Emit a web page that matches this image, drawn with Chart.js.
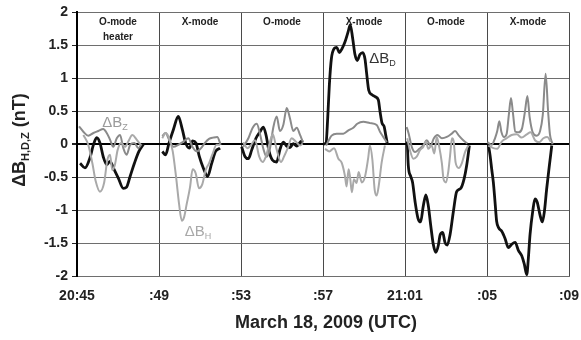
<!DOCTYPE html>
<html>
<head>
<meta charset="utf-8">
<script src="https://cdn.jsdelivr.net/npm/chart.js@4.4.1/dist/chart.umd.min.js"></script>
<style>
  html, body { margin:0; padding:0; background:#fff; }
</style>
</head>
<body>
<canvas id="mag-chart" width="581" height="340"></canvas>
<script>
'use strict';

// ── Data (x = minutes after 20:45 UTC, null value = heater off gap) ──────────
const xTickLabels = ['20:45', ':49', ':53', ':57', '21:01', ':05', ':09'];
const panelLabels = [['O-mode', 'heater'], ['X-mode'], ['O-mode'], ['X-mode'], ['O-mode'], ['X-mode']];

// ΔB_D (black)
const dTime = [
  0.15,0.39,0.63,0.80,0.96,1.12,1.28,1.45,1.61,1.82,2.01,2.26,2.42,2.59,2.80,3.02,3.24, 3.6,
  4.16,4.32,4.49,4.70,4.94,5.14,5.30,5.48,5.64,5.80,5.97,6.16,6.37,6.57,6.76,6.98, 7.5,
  8.03,8.20,8.36,8.52,8.73,8.93,9.09,9.22,9.37,9.53,9.74,9.90,10.07,10.23,10.39,10.55,10.72,10.91,11.04, 11.5,
  12.02,12.15,12.23,12.31,12.41,12.54,12.67,12.80,12.93,13.07,13.22,13.33,13.45,13.56,13.67,13.80,13.94,14.05,14.13,14.23,14.39,14.55,14.70,14.78,14.88,14.98,15.06,15.14, 15.6,
  16.11,16.16,16.28,16.37,16.49,16.63,16.76,16.89,17.02,17.14,17.25,17.38,17.51,17.63,17.71,17.84,17.95,18.06,18.20,18.36,18.52,18.72,18.88,19.01,19.14, 19.6,
  20.06,20.15,20.23,20.31,20.39,20.47,20.57,20.72,20.88,21.04,21.20,21.37,21.53,21.69,21.82,21.94,22.02,22.10,22.23,22.34,22.45,22.59,22.70,22.80,22.91,23.04,23.16
];
const dVal = [
  -0.29,-0.36,-0.21,-0.01,0.10,0.02,-0.19,-0.31,-0.26,-0.39,-0.51,-0.67,-0.65,-0.49,-0.29,-0.11,0, null,
  -0.11,-0.16,0.02,0.22,0.42,0.22,0.02,-0.06,0.05,0.02,-0.19,-0.36,-0.49,-0.29,-0.11,-0.06, null,
  -0.04,-0.19,-0.22,-0.09,0.09,0.19,0.26,0.14,-0.11,-0.24,-0.27,-0.08,0.03,-0.03,-0.05,0.01,-0.03,0.04,0.05, null,
  0,0.02,0.40,0.90,1.30,1.45,1.47,1.39,1.45,1.55,1.70,1.81,1.60,1.36,1.27,1.36,1.39,1.29,1.07,0.82,0.75,0.72,0.67,0.50,0.32,0.27,0.14,0, null,
  0.04,-0.32,-0.49,-0.58,-0.87,-1.12,-1.18,-0.94,-0.77,-0.94,-1.22,-1.52,-1.64,-1.53,-1.38,-1.34,-1.49,-1.53,-1.37,-1.02,-0.72,-0.67,-0.53,-0.32,-0.02, null,
  0.01,-0.17,-0.38,-0.58,-0.87,-1.17,-1.27,-1.32,-1.43,-1.57,-1.52,-1.49,-1.61,-1.69,-1.82,-1.98,-1.72,-1.37,-1.02,-0.83,-0.88,-1.08,-1.18,-1.02,-0.68,-0.33,-0.02
];

// ΔB_Z (mid gray)
const zTime = [
  0.10,0.31,0.55,0.80,1.04,1.28,1.45,1.61,1.77,1.94,2.10,2.26,2.42,2.59,2.80,2.99,3.15, 3.6,
  4.16,4.32,4.49,4.70,4.94,5.19,5.43,5.63,5.84,6.05,6.24,6.44,6.65,6.84,7.01, 7.5,
  8.11,8.36,8.57,8.77,8.93,9.09,9.25,9.41,9.58,9.74,9.90,10.07,10.23,10.39,10.55,10.72,10.88,11.01, 11.5,
  12.15,12.42,12.67,12.99,13.24,13.48,13.67,13.97,14.29,14.62,14.78,14.94,15.11, 15.6,
  16.08,16.18,16.33,16.49,16.70,16.89,17.06,17.25,17.41,17.58,17.80,18.04,18.28,18.44,18.63,18.84,19.04, 19.6,
  20.02,20.23,20.39,20.50,20.60,20.70,20.83,20.96,21.07,21.17,21.27,21.38,21.55,21.71,21.85,21.97,22.08,22.23,22.42,22.59,22.72,22.86,22.98,23.07,23.20
];
const zVal = [
  0.27,0.19,0.13,0.17,0.20,0.23,0.17,0.07,-0.04,0.09,0.14,-0.06,-0.16,-0.01,0.02,-0.06,0, null,
  0.12,0.17,0.07,-0.04,-0.01,0.04,0.09,-0.04,-0.11,-0.06,0.02,0.08,0.10,0.11,-0.01, null,
  -0.04,0.09,0.25,0.31,0.15,-0.07,-0.19,-0.07,0.26,0.42,0.20,0.30,0.55,0.39,0.20,0.25,0.14,0.04, null,
  -0.02,0.13,0.16,0.16,0.21,0.25,0.31,0.34,0.32,0.29,0.19,0.11,0.03, null,
  0.26,0.16,-0.04,-0.12,-0.07,-0.02,0.06,-0.02,0.09,0.14,0.09,0.11,0.16,0.20,0.13,0.06,0.01, null,
  0.03,-0.01,0.09,0.20,0.35,0.19,0.11,0.16,0.46,0.70,0.46,0.19,0.18,0.24,0.49,0.73,0.41,0.18,0.13,0.20,0.44,1.07,0.50,0.15,0
];

// ΔB_H (light gray)
const hTime = [
  0.31,0.55,0.75,0.91,1.12,1.32,1.48,1.61,1.72,1.85,1.98,2.15,2.34,2.50,2.70,2.91,3.11, 3.6,
  4.16,4.32,4.50,4.67,4.83,4.98,5.11,5.22,5.35,5.51,5.64,5.79,5.95,6.11,6.28,6.44,6.60,6.81,6.98, 7.5,
  8.11,8.31,8.47,8.68,8.89,9.06,9.22,9.38,9.55,9.74,9.95,10.11,10.28,10.47,10.67,10.88,11.01, 11.5,
  12.10,12.31,12.54,12.75,12.91,13.07,13.15,13.25,13.33,13.41,13.51,13.64,13.74,13.89,14.05,14.20,14.29,14.41,14.52,14.62,14.72,14.86,15.02, 15.6,
  16.11,16.24,16.41,16.57,16.73,16.89,17.02,17.14,17.30,17.43,17.55,17.67,17.80,17.88,18.00,18.11,18.20,18.29,18.37,18.47,18.62,18.77,18.93,19.09, 19.6,
  20.06,20.31,20.50,20.72,20.96,21.20,21.45,21.69,21.94,22.13,22.34,22.55,22.75,22.94,23.11
];
const hVal = [
  0.14,-0.01,-0.29,-0.56,-0.72,-0.59,-0.24,-0.16,-0.39,-0.31,-0.09,0.02,-0.04,0.04,0.14,0.07,-0.01, null,
  0.09,0.17,0.09,-0.11,-0.49,-0.91,-1.16,-1.11,-0.91,-0.66,-0.38,-0.44,-0.67,-0.61,-0.39,-0.29,-0.16,-0.01,-0.01, null,
  0.03,-0.06,-0.02,0.06,-0.19,-0.27,-0.18,0,0.15,-0.08,-0.27,-0.18,-0.06,0.09,0.04,-0.02,0.01, null,
  -0.07,-0.11,-0.06,-0.22,-0.28,-0.48,-0.64,-0.38,-0.53,-0.73,-0.53,-0.59,-0.42,-0.58,-0.49,-0.22,-0.02,-0.24,-0.69,-0.78,-0.63,-0.28,-0.02, null,
  0.09,-0.09,-0.22,-0.19,-0.09,-0.04,0.04,-0.07,-0.02,-0.14,0.11,-0.04,-0.29,-0.53,-0.58,-0.42,-0.17,0.09,0.05,-0.28,-0.36,-0.29,-0.12,-0.02, null,
  -0.02,-0.06,-0.07,0.04,0.09,0.14,0.15,0.10,0.15,0.18,0.06,0.03,0.09,0.11,0.04
];

// curve labels: [subscript, minute, value]
const curveLabels = [['Z', 1.85, 0.32], ['H', 5.9, -1.33], ['D', 14.9, 1.3]];

const FONT = '"Liberation Sans", Arial, sans-serif';
const toPoints = (ts, vs) => ts.map((t, i) => ({ x: t, y: vs[i] }));

// ── Text overlay: panel headings, curve labels, axis titles ──────────────────
function drawDeltaB(ctx, sub, cx, cy, big, small, weight) {
  ctx.font = `${weight} ${big}px ${FONT}`;
  const w1 = ctx.measureText('ΔB').width;
  ctx.font = `${weight} ${small}px ${FONT}`;
  const w2 = ctx.measureText(sub).width;
  const x0 = cx - (w1 + w2) / 2;
  ctx.textAlign = 'left';
  ctx.font = `${weight} ${big}px ${FONT}`;
  ctx.fillText('ΔB', x0, cy);
  ctx.font = `${weight} ${small}px ${FONT}`;
  ctx.fillText(sub, x0 + w1, cy + big * 0.3);
}

const figText = {
  id: 'figText',
  afterDatasetsDraw(chart) {
    const { ctx, chartArea: a, scales: { x, y } } = chart;
    ctx.save();
    ctx.textBaseline = 'middle';

    // panel headings
    ctx.fillStyle = '#222';
    ctx.font = `bold 10px ${FONT}`;
    ctx.textAlign = 'center';
    panelLabels.forEach((lines, i) => {
      const cx = x.getPixelForValue(i * 4 + 2);
      lines.forEach((s, j) => ctx.fillText(s, cx, a.top + 10 + j * 15));
    });

    // curve labels
    const colors = { Z: '#9a9a9a', H: '#a8a8a8', D: '#333' };
    curveLabels.forEach(([sub, t, v]) => {
      ctx.fillStyle = colors[sub];
      drawDeltaB(ctx, sub, x.getPixelForValue(t), y.getPixelForValue(v), 15, 9, 'normal');
    });

    // x title
    ctx.fillStyle = '#222';
    ctx.textAlign = 'center';
    ctx.font = `bold 18px ${FONT}`;
    ctx.fillText('March 18, 2009 (UTC)', (a.left + a.right) / 2 + 3, 323);

    // y title (rotated, with subscript)
    ctx.translate(20, 140);
    ctx.rotate(-Math.PI / 2);
    ctx.font = `bold 18px ${FONT}`;
    const w1 = ctx.measureText('ΔB').width;
    const w3 = ctx.measureText(' (nT)').width;
    ctx.font = `bold 11px ${FONT}`;
    const w2 = ctx.measureText('H,D,Z').width;
    const x0 = -(w1 + w2 + w3) / 2;
    ctx.textAlign = 'left';
    ctx.font = `bold 18px ${FONT}`;
    ctx.fillText('ΔB', x0, 0);
    ctx.font = `bold 11px ${FONT}`;
    ctx.fillText('H,D,Z', x0 + w1, 6);
    ctx.font = `bold 18px ${FONT}`;
    ctx.fillText(' (nT)', x0 + w1 + w2, 0);
    ctx.restore();
  }
};

// ── Chart ────────────────────────────────────────────────────────────────────
const line = { pointRadius: 0, fill: false, spanGaps: false, cubicInterpolationMode: 'monotone' };

new Chart(document.getElementById('mag-chart'), {
  type: 'line',
  data: {
    datasets: [
      { ...line, label: 'ΔB_H', data: toPoints(hTime, hVal), borderColor: '#a9a9a9', borderWidth: 2 },
      { ...line, label: 'ΔB_Z', data: toPoints(zTime, zVal), borderColor: '#8a8a8a', borderWidth: 2 },
      { ...line, label: 'ΔB_D', data: toPoints(dTime, dVal), borderColor: '#111', borderWidth: 2.8 }
    ]
  },
  options: {
    responsive: false, animation: false,
    layout: { padding: { top: 10, right: 0, left: 0, bottom: 0 } },
    plugins: { legend: { display: false }, tooltip: { enabled: false } },
    scales: {
      x: {
        type: 'linear', min: 0, max: 24,
        afterFit: s => { s.height = 64; s.paddingLeft = 0; s.paddingRight = 12; },
        ticks: { stepSize: 4, padding: 12, color: '#222', font: { family: FONT, size: 14, weight: 'bold' },
                 callback: v => xTickLabels[Math.round(v / 4)] },
        grid: { color: '#4a4a4a', lineWidth: 1, drawTicks: false },
        border: { color: '#6e6e6e', width: 1 }
      },
      y: {
        min: -2, max: 2,
        afterFit: s => { s.width = 77; },
        ticks: { stepSize: 0.5, padding: 4, color: '#222', font: { family: FONT, size: 14, weight: 'bold' },
                 callback: v => String(v) },
        grid: { color: c => c.tick && c.tick.value === 0 ? '#000' : '#6e6e6e',
                lineWidth: c => c.tick && c.tick.value === 0 ? 2 : 1,
                tickLength: 5, tickColor: '#222' },
        border: { color: '#000', width: 2 }
      }
    }
  },
  plugins: [figText]
});
</script>
</body>
</html>
